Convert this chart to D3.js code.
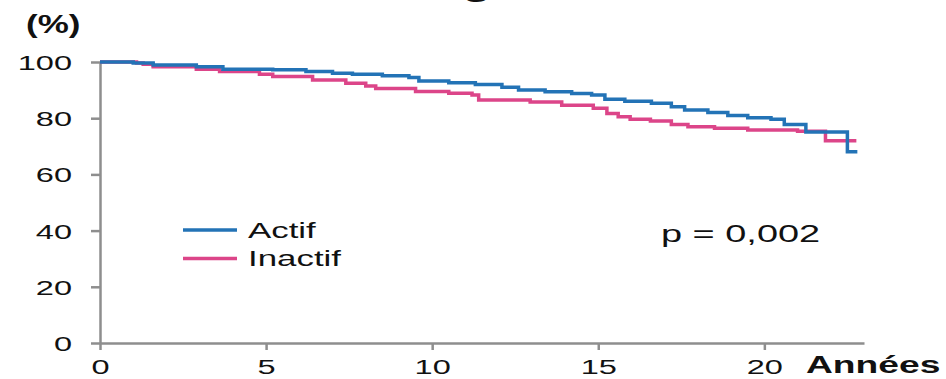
<!DOCTYPE html>
<html>
<head>
<meta charset="utf-8">
<script src="https://cdn.jsdelivr.net/npm/d3@7"></script>
<style>
  html, body { margin: 0; padding: 0; background: #fff; }
  svg { display: block; font-family: "Liberation Sans", Arial, sans-serif; }
</style>
</head>
<body>
<svg id="chart" width="946" height="379"></svg>
<script>
// Kaplan–Meier survival by activity status (step points: time in years, survival %)
const actifTimes  = [0, 1.0, 1.6, 2.9, 3.7, 5.2, 6.2, 7.0, 7.6, 8.5, 9.3, 9.6, 10.5, 11.3, 12.1, 12.6, 13.4, 14.2, 14.8, 15.2, 15.8, 16.6, 17.2, 17.6, 18.3, 18.9, 19.5, 20.2, 20.6, 21.25, 22.5, 22.8];
const actifValues = [100, 99.6, 98.9, 98.3, 97.4, 97.2, 96.6, 96.0, 95.6, 95.1, 94.5, 93.2, 92.6, 92.0, 91.0, 90.0, 89.4, 88.8, 88.3, 86.7, 86.0, 85.3, 84.1, 82.9, 82.0, 81.0, 80.2, 79.6, 77.8, 75.1, 68.1, 68.1];

const inactifTimes  = [0, 1.1, 1.3, 1.6, 2.9, 3.6, 4.8, 5.2, 6.4, 7.4, 8.0, 8.3, 9.5, 10.5, 11.2, 11.4, 12.95, 13.9, 14.85, 15.26, 15.6, 15.96, 16.57, 17.2, 17.7, 18.5, 19.5, 21.0, 21.84, 22.77];
const inactifValues = [100, 99.6, 99.2, 98.3, 97.4, 96.6, 95.6, 94.8, 93.6, 92.4, 91.5, 90.6, 89.5, 88.9, 88.3, 86.5, 85.8, 84.6, 83.5, 81.7, 80.5, 79.6, 79.0, 77.8, 77.0, 76.4, 75.8, 75.4, 72.0, 72.0];

const seriesNames = ["Actif", "Inactif"];
const xTicks = [0, 5, 10, 15, 20];
const yTicks = [0, 20, 40, 60, 80, 100];
const xLabel = "Années";
const yLabel = "(%)";
const pValueText = "p = 0,002";
const titleText = "Survie globale";

const colors = { Actif: "#2373b6", Inactif: "#dc4589" };
const axisColor = "#8e8e8e";
const stretch = 1.55;   // wide-set lettering

const svg = d3.select("#chart");
const x = d3.scaleLinear().domain([0, 23]).range([100, 864]);
const y = d3.scaleLinear().domain([0, 100]).range([343, 62]);

// horizontally widened text, anchored at (px, py)
function wideText(px, py, str, size, weight, anchor, sx) {
  const k = sx || stretch;
  const g = svg.append("g").attr("transform", `translate(${px},${py}) scale(${k},1)`);
  return g.append("text")
    .attr("text-anchor", anchor || "start")
    .attr("font-size", size)
    .attr("font-weight", weight || "normal")
    .attr("fill", "#111")
    .text(str);
}

// title: only its lowest strokes fall inside the frame
const title = wideText(0, -4, titleText, 30, "bold", "start");
{
  const gi = titleText.indexOf("g");
  const start = title.node().getStartPositionOfChar(gi).x;
  const w = title.node().getSubStringLength(gi, 1);
  const shift = 477 - (start + w / 2) * stretch;
  d3.select(title.node().parentNode).attr("transform", `translate(${shift},-4) scale(${stretch},1)`);
}

// axes
const yAxis = svg.append("g")
  .attr("transform", `translate(${x(0)},0)`)
  .call(d3.axisLeft(y).tickValues(yTicks).tickSize(9).tickSizeOuter(0));
const xAxis = svg.append("g")
  .attr("transform", `translate(0,${y(0)})`)
  .call(d3.axisBottom(x).tickValues(xTicks).tickSize(7).tickSizeOuter(0));

[yAxis, xAxis].forEach(a => {
  a.select(".domain").attr("stroke", axisColor).attr("stroke-width", 2.5);
  a.selectAll(".tick line").attr("stroke", axisColor).attr("stroke-width", 2.5);
  a.selectAll(".tick text")
    .attr("font-size", 21)
    .attr("font-family", "'Liberation Sans', Arial, sans-serif")
    .attr("fill", "#111");
});
yAxis.selectAll(".tick text")
  .attr("x", -28 / stretch)
  .attr("dy", "0.36em")
  .attr("transform", `scale(${stretch},1)`);
xAxis.selectAll(".tick text")
  .attr("y", 31)
  .attr("dy", 0)
  .attr("transform", `scale(${stretch},1)`);

// axis titles
wideText(26, 33, yLabel, 25, "bold", "start", 1.4);
wideText(806, 373, xLabel, 24, "bold", "start");

// survival curves
const line = d3.line()
  .x(d => x(d[0]))
  .y(d => y(d[1]))
  .curve(d3.curveStepAfter);

const curves = [
  { name: "Inactif", pts: d3.zip(inactifTimes, inactifValues) },
  { name: "Actif", pts: d3.zip(actifTimes, actifValues) }
];
svg.append("g").selectAll("path")
  .data(curves)
  .join("path")
  .attr("d", d => line(d.pts))
  .attr("fill", "none")
  .attr("stroke", d => colors[d.name])
  .attr("stroke-width", 3.5)
  .attr("stroke-linejoin", "miter");

// legend
const legendRows = [230, 258.5];
seriesNames.forEach((name, i) => {
  svg.append("line")
    .attr("x1", 183).attr("x2", 237)
    .attr("y1", legendRows[i]).attr("y2", legendRows[i])
    .attr("stroke", colors[name])
    .attr("stroke-width", 3.5);
  wideText(248, legendRows[i] + 7.5, name, 22.5, "normal", "start");
});

// log-rank p value
wideText(661, 242, pValueText, 24, "normal", "start", 1.58);
</script>
</body>
</html>
